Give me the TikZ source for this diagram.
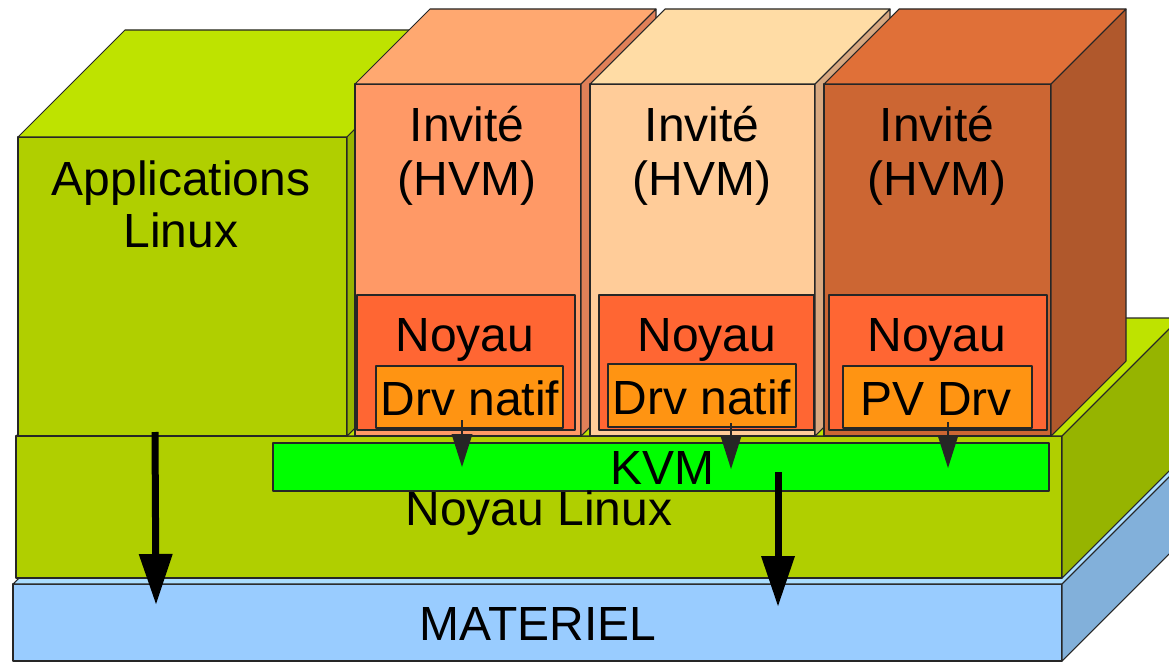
\documentclass[tikz,border=0pt]{standalone}
\usepackage{fontspec}
\setmainfont{Liberation Sans}
\usetikzlibrary{arrows.meta}
\definecolor{matF}{HTML}{99CCFF}
\definecolor{matT}{HTML}{ABDDFF}
\definecolor{matS}{HTML}{82B0DA}
\definecolor{grnF}{HTML}{B0CF00}
\definecolor{grnT}{HTML}{BEE300}
\definecolor{grnS}{HTML}{96B400}
\definecolor{gAF}{HTML}{FF9966}
\definecolor{gAT}{HTML}{FFA870}
\definecolor{gAS}{HTML}{E08058}
\definecolor{gBF}{HTML}{FFCC99}
\definecolor{gBT}{HTML}{FFDCA5}
\definecolor{gBS}{HTML}{D8A880}
\definecolor{gCF}{HTML}{CC6633}
\definecolor{gCT}{HTML}{E07038}
\definecolor{gCS}{HTML}{B0582C}
\definecolor{noyF}{HTML}{FF6633}
\definecolor{drvF}{HTML}{FF9412}
\definecolor{kvmF}{HTML}{00FF00}
% x1, ytop, x2, ybottom, depth, front, top, side
\newcommand\cuboid[8]{%
  \filldraw[edge,fill=#6] (#1,#2) rectangle (#3,#4);
  \filldraw[edge,fill=#7] (#1,#2) -- (#1+#5,#2-#5) -- (#3+#5,#2-#5) -- (#3,#2) -- cycle;
  \filldraw[edge,fill=#8] (#3,#2) -- (#3+#5,#2-#5) -- (#3+#5,#4-#5) -- (#3,#4) -- cycle;
}
\begin{document}
\begin{tikzpicture}[x=0.02cm,y=-0.02cm,line join=round,
  edge/.style={draw=black!85,line width=0.6pt},
  lbl/.style={anchor=base,inner sep=0pt,font=\fontsize{27.3}{32}\selectfont},
  bigarrow/.style={line width=0.14cm,-{Triangle[width=0.68cm,length=1cm,line width=0pt]}},
  smallarrow/.style={line width=0.6pt,draw=black!85,-{Triangle[width=0.42cm,length=0.66cm,line width=0pt]}}]
\useasboundingbox (0,0) rectangle (1169,662);
\clip (0,0) rectangle (1169,662);

% layers
\cuboid{13}{584}{1062}{661}{118}{matF}{matT}{matS}
\cuboid{16}{436}{1062}{578}{118}{grnF}{grnT}{grnS}
\cuboid{18}{137}{347}{436}{107}{grnF}{grnT}{grnS}
\cuboid{355}{84}{581}{436}{75}{gAF}{gAT}{gAS}
\cuboid{590}{84}{815}{436}{75}{gBF}{gBT}{gBS}
\cuboid{824}{84}{1051}{436}{75}{gCF}{gCT}{gCS}

% guest kernels and drivers
\filldraw[edge,fill=noyF] (357,295) rectangle (575,430);
\filldraw[edge,fill=noyF] (599,295) rectangle (814,430);
\filldraw[edge,fill=noyF] (829,295) rectangle (1047,430);
\filldraw[edge,fill=drvF] (376,366) rectangle (563,428);
\filldraw[edge,fill=drvF] (608,364) rectangle (796,427);
\filldraw[edge,fill=drvF] (843,366) rectangle (1032,428);

% KVM
\filldraw[edge,fill=kvmF] (273,443) rectangle (1049,491);

% texts
\node[lbl] (app1) at (181,195) {Applications};
\node[lbl] (app2) at (181,247) {Linux};
\node[lbl] (inv1) at (467,142) {Invité};
\node[lbl] (hvm1) at (467,195) {(HVM)};
\node[lbl] (inv2) at (702,142) {Invité};
\node[lbl] (hvm2) at (702,195) {(HVM)};
\node[lbl] (inv3) at (937,142) {Invité};
\node[lbl] (hvm3) at (937,195) {(HVM)};
\node[lbl] (noy1) at (465,351) {Noyau};
\node[lbl] (noy2) at (707,351) {Noyau};
\node[lbl] (noy3) at (937,351) {Noyau};
\node[lbl] (drv1) at (470,415) {Drv natif};
\node[lbl] (drv2) at (702,414) {Drv natif};
\node[lbl] (drv3) at (936,415) {PV Drv};
\node[lbl] (kvm) at (662,484) {KVM};
\node[lbl] (noyl) at (539,525) {Noyau Linux};
\node[lbl] (mat) at (538,640) {MATERIEL};

% arrows
\coordinate (a1s) at (155,432);
\coordinate (a1e) at (156,604);
\coordinate (a2s) at (778,472);
\coordinate (a2e) at (778,606);
\coordinate (d1s) at (462,420);
\coordinate (d1e) at (462,467);
\coordinate (d2s) at (731,423);
\coordinate (d2e) at (731,469);
\coordinate (d3s) at (948,422);
\coordinate (d3e) at (948,468);
\draw[bigarrow] (a1s) -- (a1e);
\draw[bigarrow] (a2s) -- (a2e);
\draw[smallarrow] (d1s) -- (d1e);
\draw[smallarrow] (d2s) -- (d2e);
\draw[smallarrow] (d3s) -- (d3e);
\end{tikzpicture}
\end{document}
